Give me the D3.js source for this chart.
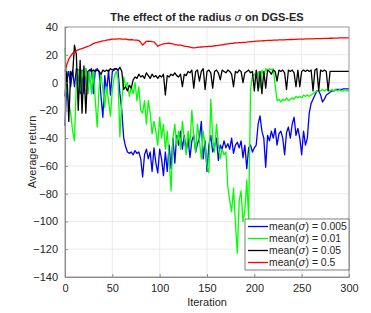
<!DOCTYPE html>
<html>
<head>
<meta charset="utf-8">
<script src="https://cdn.jsdelivr.net/npm/d3@7"></script>
<style>
  body { margin: 0; background: #fff; }
  svg text { font-family: "Liberation Sans", Arial, sans-serif; fill: #262626; }
</style>
</head>
<body>
<svg id="chart" width="371" height="313"></svg>
<script>
// iterations sampled every 2 steps
var iterations = d3.range(0, 301, 2);

var sigma_0005 = [-31, 2, 8, -3, 9, -3, 10, 9, -8, 9,
    -8, 10, -8, 9, 10, -8, 9, 10, 8, -10,
    -25, 5, -7, 9, -9, 8, 9, 10, 9, -8,
    -20, -40, -46, -50, -51, -50, -52, -49, -51, -50,
    -55, -68, -52, -48, -55, -50, -64, -47, -58, -65,
    -48, -55, -67, -50, -64, -45, -62, -40, -58, -38,
    -45, -35, -48, -38, -50, -40, -54, -42, -38, -50,
    -44, -40, -28, -55, -42, -64, -45, -38, -50, -46,
    -40, -56, -45, -48, -42, -47, -44, -48, -40, -51,
    -45, -43, -47, -42, -54, -45, -62, -47, -45, -50,
    -47, -45, -30, -24, -35, -40, -61, -38, -42, -35,
    -40, -33, -45, -37, -35, -40, -52, -36, -32, -40,
    -30, -25, -38, -33, -40, -52, -35, -45, -40, -22,
    -15, -12, -9, -6, -6, -9, -14, -12, -9, -8,
    -7, -6, -6, -5, -5, -5, -5, -4.5, -4.5, -4.5, -4.5];

var sigma_001 = [25, -5, -15, -22, -35, -42, 0, 9, -6, 8,
    -1, 10, -8, 8, -8, 9, -13, -32, -3, 6,
    -5, -18, -3, -13, -24, -5, 4, 8, 3, -39,
    -13, 4, -3, 0, -10, -3, -8, 0, -13, -3,
    -20, -22, -13, -30, -13, -22, -37, -28, -35, -45,
    -25, -40, -30, -48, -35, -55, -78, -40, -30, -45,
    -35, -48, -28, -40, -52, -35, -45, -20, -38, -50,
    -30, -42, -55, -35, -45, -60, -65, -12, -40, -50,
    -30, -45, -55, -48, -52, -50, -75, -85, -93, -76,
    -100, -123, -85, -78, -100, -92, -70, -98, -5, 5,
    6, 3, 8, -4, 9, 5, 10, 8, 10, 9,
    10, -2, -13, -12, -14, -12, -13, -11, -13, -12,
    -11, -12, -10, -11, -10, -11, -9, -10, -9, -10,
    -9, -8, -7, -6, -6, -6, -5, -6, -5, -5,
    -6, -5, -6, -5, -6, -5, -6, -6, -5, -6, -6];

var sigma_005 = [-10, 8, -28, 8, 5, 27, 20, -20, 16, -22,
    12, -22, 8, 9, 8, 9, 8, 9, 8, 6,
    9, 8, 9, 8, 10, 9, 10, 10, 9, 11,
    8, -5, -3, -6, -2, -4, 2, 4, 3, 6,
    4, 5, 3, 7, 5, 3, 6, 4, 5, 3,
    5, 4, 6, -9, 5, 4, 6, 5, 7, 5,
    4, 6, -3, 6, 5, 8, 7, 9, -4, 8,
    9, 1, 8, 10, -5, 8, 9, 7, -4, 8,
    9, 7, 2, 9, 8, 7, 9, 8, 6, -3,
    8, 7, 9, 8, 0, 7, 8, 9, 7, 8,
    -6, 9, -6, 8, -8, 8, -4, 9, 8, 6,
    9, 8, 1, 9, 8, 9, 7, -5, 9, 8,
    9, 7, -3, 9, -3, 8, 9, 8, 9, 8,
    9, -6, 9, 10, -6, 9, 8, 9, 8, -6,
    8, 8, 8, 8, 8, 8, 8, 8, 8, 8, 8];

var sigma_05 = [8, 13, 17, 19, 21, 22.5, 23, 23.5, 24, 24.5,
    25, 25.5, 26, 26.5, 27.3, 28, 28.5, 29, 29.3, 29.6,
    30, 30.2, 30.5, 30.8, 31, 31.2, 31.2, 31.3, 31.5, 31.4,
    31.3, 31.2, 31.3, 31, 30.8, 31, 30.7, 30.5, 30.6, 30.2,
    29, 27, 28.3, 29.7, 29.8, 29.6, 29.4, 29.3, 27.8, 26.1,
    26.9, 27.4, 27.8, 28, 28.2, 28.3, 28.1, 27.8, 27.4, 27.2,
    27, 26.9, 26.6, 26.3, 26, 25.8, 25.5, 25.2, 24.9, 25.1,
    25.4, 25.5, 25.6, 25.7, 25.8, 25.9, 26, 26.1, 26.3, 26.5,
    26.6, 26.8, 27, 27.2, 27.4, 27.6, 27.8, 28, 28.2, 28.3,
    28.5, 28.6, 28.7, 28.8, 28.9, 29, 29.1, 29.3, 29.4, 29.5,
    29.7, 29.8, 29.9, 30, 30, 30.1, 30.2, 30.3, 30.3, 30.4,
    30.5, 30.5, 30.6, 30.7, 30.7, 30.8, 30.8, 30.9, 30.9, 31,
    31, 31.1, 31.1, 31.2, 31.2, 31.3, 31.3, 31.4, 31.4, 31.5,
    31.5, 31.5, 31.6, 31.6, 31.7, 31.7, 31.7, 31.8, 31.8, 31.8,
    31.9, 31.9, 32, 32, 32, 32.1, 32.1, 32.1, 32.2, 32.2, 32.2];

var series_names = ["0.005", "0.01", "0.05", "0.5"];
var series_values = [sigma_0005, sigma_001, sigma_005, sigma_05];
var series_colors = ["#0000ff", "#00ff00", "#000000", "#ff0000"];
var x_ticks = [0, 50, 100, 150, 200, 250, 300];
var y_ticks = [-140, -120, -100, -80, -60, -40, -20, 0, 20, 40];

var svg = d3.select("#chart");
var margin = {top: 27, right: 22, bottom: 36, left: 65};
var width = 371 - margin.left - margin.right;
var height = 313 - margin.top - margin.bottom;
var group = svg.append("g").attr("transform", "translate(" + margin.left + "," + margin.top + ")");

var xscale = d3.scaleLinear().domain([0, 300]).range([0, width]);
var yscale = d3.scaleLinear().domain([-140, 40]).range([height, 0]);

// grid
group.append("g")
    .selectAll("line.vgrid")
    .data(x_ticks)
    .enter().append("line")
    .attr("x1", function(d) { return xscale(d); })
    .attr("x2", function(d) { return xscale(d); })
    .attr("y1", 0).attr("y2", height)
    .attr("stroke", "#e6e6e6").attr("stroke-width", 0.8);
group.append("g")
    .selectAll("line.hgrid")
    .data(y_ticks)
    .enter().append("line")
    .attr("y1", function(d) { return yscale(d); })
    .attr("y2", function(d) { return yscale(d); })
    .attr("x1", 0).attr("x2", width)
    .attr("stroke", "#e6e6e6").attr("stroke-width", 0.8);

// lines
var line = d3.line()
    .x(function(d, i) { return xscale(iterations[i]); })
    .y(function(d) { return yscale(d); });

series_values.forEach(function(vals, k) {
    group.append("path")
        .datum(vals)
        .attr("fill", "none")
        .attr("stroke", series_colors[k])
        .attr("stroke-width", 1.3)
        .attr("stroke-linejoin", "round")
        .attr("d", line);
});

// axes (matlab style: inward ticks, box)
var xAxis = d3.axisBottom(xscale).tickValues(x_ticks).tickSizeInner(-3).tickSizeOuter(0).tickPadding(7);
var yAxis = d3.axisLeft(yscale).tickValues(y_ticks).tickSizeInner(-3).tickSizeOuter(0).tickPadding(7);

group.append("g")
    .attr("class", "x_axis")
    .attr("transform", "translate(0," + height + ")")
    .call(xAxis);
group.append("g")
    .attr("class", "y_axis")
    .call(yAxis);
group.selectAll(".x_axis text, .y_axis text")
    .attr("fill", "#262626")
    .style("font-size", "11px");
group.selectAll(".x_axis line, .y_axis line").attr("stroke", "#8c8c8c");
group.selectAll(".domain").attr("stroke", "#8c8c8c");

group.append("rect")
    .attr("x", 0).attr("y", 0)
    .attr("width", width).attr("height", height)
    .attr("fill", "none")
    .attr("stroke", "#8c8c8c")
    .attr("stroke-width", 0.8);

// labels
svg.append("text")
    .attr("x", margin.left + width / 2)
    .attr("y", 21)
    .attr("text-anchor", "middle")
    .style("font-size", "11px")
    .style("font-weight", "bold")
    .attr("fill", "#000")
    .html('The effect of the radius <tspan font-family="DejaVu Serif" font-style="italic" font-weight="normal">σ</tspan> on DGS-ES');

svg.append("text")
    .attr("x", margin.left + width / 2)
    .attr("y", 306)
    .attr("text-anchor", "middle")
    .style("font-size", "11px")
    .text("Iteration");

svg.append("text")
    .attr("transform", "translate(36," + (margin.top + height / 2) + ") rotate(-90)")
    .attr("text-anchor", "middle")
    .style("font-size", "11px")
    .text("Average return");

// legend
var legend = group.append("g").attr("transform", "translate(" + (width - 104) + "," + (height - 58) + ")");
legend.append("rect")
    .attr("width", 104).attr("height", 51)
    .attr("fill", "#fff")
    .attr("stroke", "#262626")
    .attr("stroke-width", 0.6);
var items = legend.selectAll("g")
    .data(series_names)
    .enter().append("g")
    .attr("transform", function(d, i) { return "translate(0," + (7.5 + i * 12) + ")"; });
items.append("line")
    .attr("x1", 3).attr("x2", 23)
    .attr("stroke", function(d, i) { return series_colors[i]; })
    .attr("stroke-width", 1.3);
items.append("text")
    .attr("x", 24)
    .attr("dy", "0.35em")
    .style("font-size", "10.4px")
    .html(function(d) { return 'mean(<tspan font-family="DejaVu Serif" font-style="italic">σ</tspan>) = ' + d; });
</script>
</body>
</html>
